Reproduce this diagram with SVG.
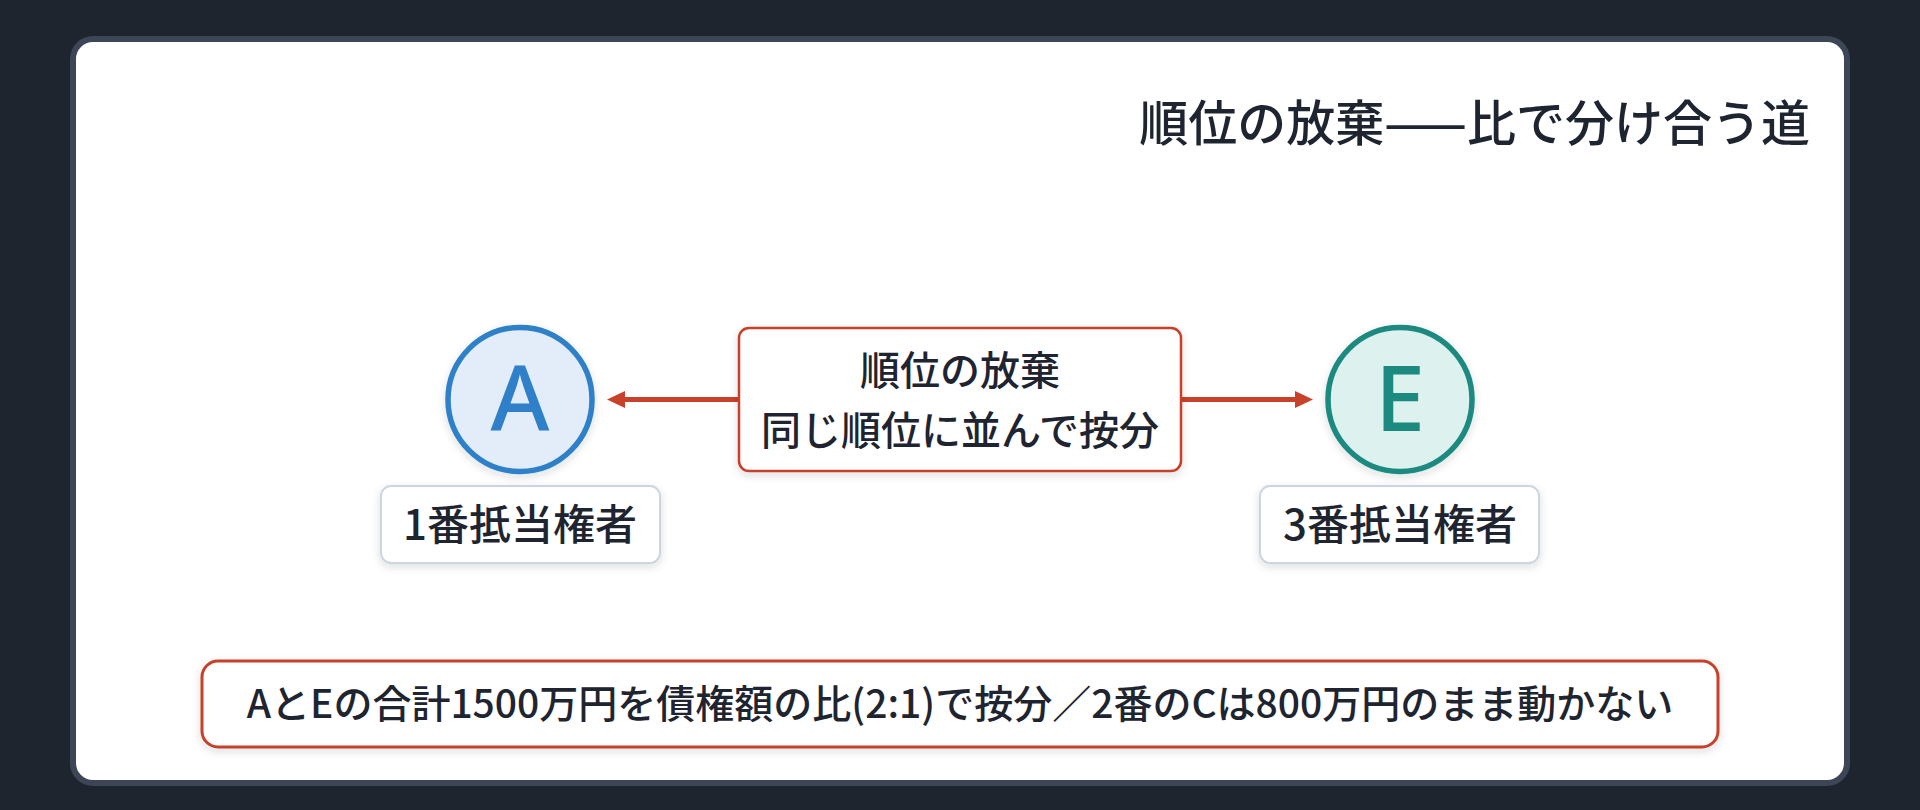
<svg xmlns="http://www.w3.org/2000/svg" width="1920" height="810" viewBox="0 0 1920 810">
  <defs>
    <style>
      .t { font-family: "Noto Sans CJK JP", "Noto Sans", sans-serif; fill: #1e2530; font-weight: 500; }
      .title { font-size: 49px; }
      .mid { font-size: 40px; text-anchor: middle; }
      .note { font-size: 39px; text-anchor: middle; }
      .lbl { font-size: 42px; text-anchor: middle; }
      .letter { font-family: "Noto Sans", "Open Sans", sans-serif; font-size: 90px; font-weight: 500; text-anchor: middle; }
      .lblbox { fill: #ffffff; stroke: #cdd6e0; stroke-width: 2; }
      .redbox { fill: #ffffff; stroke: #c8412b; }
      .conn { stroke: #c8412b; stroke-width: 5; fill: none; }
    </style>
    <marker id="ah" markerUnits="userSpaceOnUse" markerWidth="18" markerHeight="17" refX="13" refY="8.5" orient="auto">
      <path d="M0,0 L18,8.5 L0,17 z" fill="#c8412b"/>
    </marker>
    <filter id="sh" x="-20%" y="-20%" width="140%" height="150%">
      <feDropShadow dx="0" dy="3" stdDeviation="4" flood-color="#1e2530" flood-opacity="0.14"/>
    </filter>
  </defs>

  <rect x="0" y="0" width="1920" height="810" fill="#1f252f"/>
  <rect id="panel" x="73" y="39" width="1774" height="744" rx="20" fill="#ffffff" stroke="#3c4656" stroke-width="6"/>

  <text id="title" class="t title" x="1810" y="141" text-anchor="end">順位の放棄——比で分け合う道</text>

  <g id="connectors">
    <line class="conn" x1="739" y1="399.5" x2="612" y2="399.5" marker-end="url(#ah)"/>
    <line class="conn" x1="1181" y1="399.5" x2="1308" y2="399.5" marker-end="url(#ah)"/>
  </g>

  <g id="node-A">
    <circle cx="520" cy="399.5" r="72" fill="#e3edf9" stroke="#2f80c8" stroke-width="5.5" filter="url(#sh)"/>
    <text class="letter" x="520" y="431" fill="#2f80c8">A</text>
  </g>
  <g id="label-A">
    <rect class="lblbox" x="381" y="486" width="279" height="77" rx="10" filter="url(#sh)"/>
    <text class="t lbl" x="520" y="540">1番抵当権者</text>
  </g>

  <g id="node-E">
    <circle cx="1400" cy="399.5" r="72" fill="#ddf2ef" stroke="#1d8a80" stroke-width="5.5" filter="url(#sh)"/>
    <text class="letter" x="1400" y="431" fill="#1d8a80">E</text>
  </g>
  <g id="label-E">
    <rect class="lblbox" x="1260" y="486" width="279" height="77" rx="10" filter="url(#sh)"/>
    <text class="t lbl" x="1400" y="540">3番抵当権者</text>
  </g>

  <g id="node-waiver">
    <rect class="redbox" x="739" y="328" width="442" height="143" rx="10" stroke-width="2.5" filter="url(#sh)"/>
    <text class="t mid" x="960" y="385">順位の放棄</text>
    <text class="t mid" x="960" y="445">同じ順位に並んで按分</text>
  </g>

  <g id="note">
    <rect class="redbox" x="202" y="661" width="1516" height="86" rx="16" stroke-width="3" filter="url(#sh)"/>
    <text class="t note" x="960" y="718">AとEの合計1500万円を債権額の比(2:1)で按分／2番のCは800万円のまま動かない</text>
  </g>
</svg>
